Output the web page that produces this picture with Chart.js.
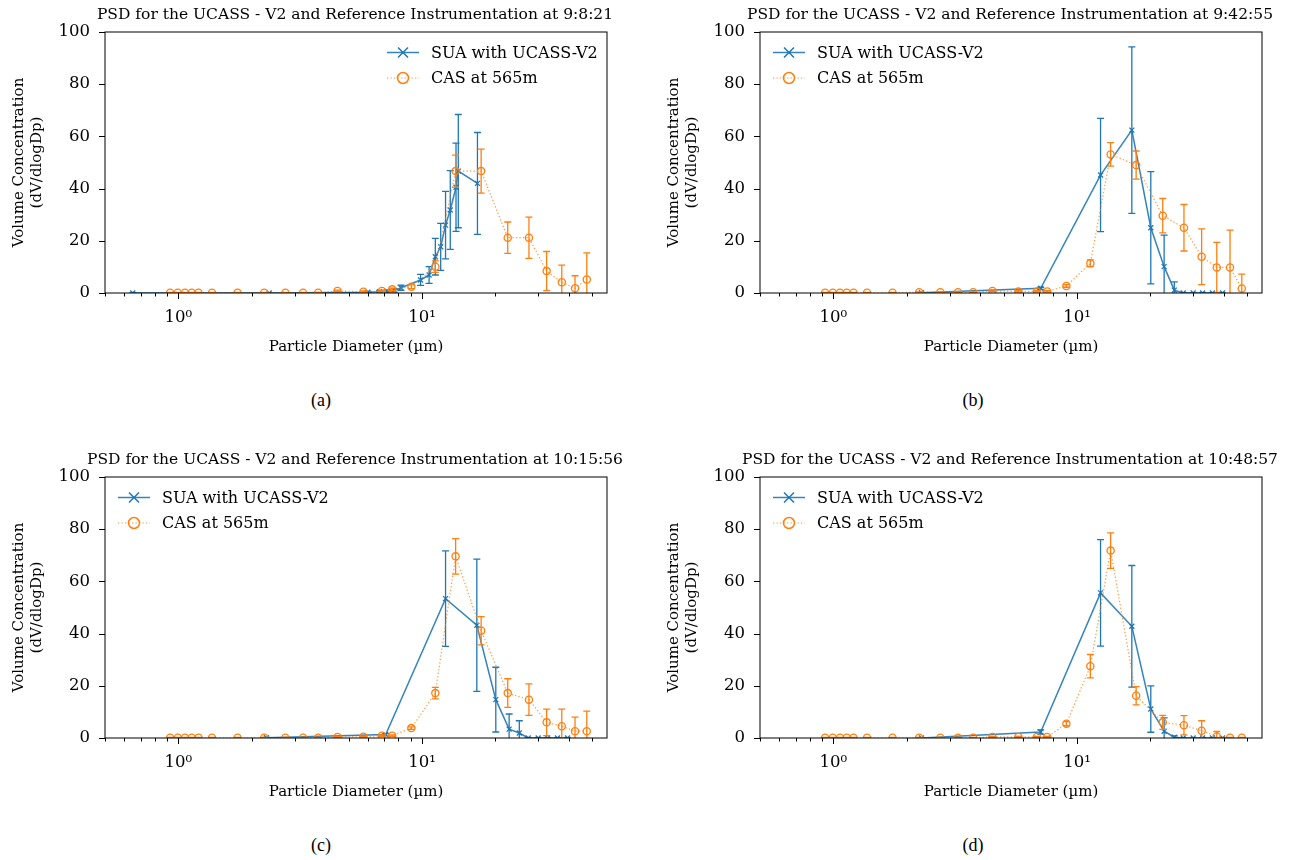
<!DOCTYPE html>
<html>
<head>
<meta charset="utf-8">
<script src="https://cdn.jsdelivr.net/npm/chart.js@4.4.0/dist/chart.umd.min.js"></script>
<style>
  body { margin: 0; background: #fff; width: 1298px; height: 860px; position: relative; overflow: hidden; }
  canvas { position: absolute; }
  .cap { position: absolute; font-family: 'Liberation Serif', serif; font-size: 18px; color: #000; transform: translateX(-50%); line-height: 20px; }
</style>
</head>
<body>
<canvas id="chartA" width="643" height="370" style="left:0px;top:0px"></canvas>
<canvas id="chartB" width="643" height="370" style="left:655px;top:0px"></canvas>
<canvas id="chartC" width="643" height="370" style="left:0px;top:445px"></canvas>
<canvas id="chartD" width="643" height="370" style="left:655px;top:445px"></canvas>
<div class="cap" style="left:321px;top:390px">(a)</div>
<div class="cap" style="left:973px;top:390px">(b)</div>
<div class="cap" style="left:321px;top:835px">(c)</div>
<div class="cap" style="left:973px;top:835px">(d)</div>
<script>
// CAS bin mid-points (um), same for every panel
const casDiameter = [0.925, 0.995, 1.065, 1.135, 1.21, 1.375, 1.75, 2.25, 2.75, 3.25, 3.75, 4.5, 5.75, 6.85, 7.55, 9.05, 11.35, 13.75, 17.5, 22.5, 27.5, 32.5, 37.5, 42.5, 47.5];
// UCASS bins: first flight used a different set
const suaDiameterA = [0.65, 2.36, 6.0, 6.7, 7.2, 7.7, 8.2, 9.87, 10.7, 11.35, 11.94, 12.5, 13.07, 13.8, 14.1, 16.9];
const suaDiameter = [2.3, 7.1, 12.5, 16.8, 20.1, 22.8, 25.1, 27.3, 30.0, 32.8, 36.0, 39.6];

// (a) 9:8:21
const suaA = [0, 0, 0.3, 0.5, 0.7, 1.0, 2.0, 5.0, 6.9, 13.9, 17.7, 26.0, 31.8, 40.5, 46.7, 42.0];
const suaErrA = [0, 0, 0.3, 0.4, 0.5, 0.7, 1.0, 2.1, 3.2, 7.0, 9.0, 12.9, 15.1, 16.9, 21.7, 19.5];
const casA = [0.1, 0.1, 0.1, 0.1, 0.1, 0.1, 0.1, 0.1, 0.1, 0.1, 0.1, 0.8, 0.5, 0.8, 1.4, 2.4, 10.1, 46.7, 46.7, 21.2, 21.2, 8.4, 4.1, 1.8, 5.2];
const casErrA = [0.1, 0.1, 0.1, 0.1, 0.1, 0.1, 0.1, 0.1, 0.1, 0.1, 0.1, 0.3, 0.3, 0.3, 0.5, 0.7, 2.2, 6.1, 8.4, 6.0, 7.9, 7.5, 6.6, 4.8, 10.2];

// (b) 9:42:55
const suaB = [0.1, 1.8, 45.2, 62.4, 25.0, 10.1, 1.1, 0, 0, 0, 0, 0];
const suaErrB = [0.1, 0.4, 21.7, 31.9, 21.5, 12.1, 3.2, 0, 0, 0, 0, 0];
const casB = [0.1, 0.1, 0.1, 0.1, 0.1, 0.1, 0.1, 0.3, 0.3, 0.3, 0.3, 0.8, 0.6, 0.6, 0.6, 2.7, 11.4, 53.1, 49.0, 29.6, 25.0, 13.9, 9.8, 9.8, 1.7];
const casErrB = [0.1, 0.1, 0.1, 0.1, 0.1, 0.1, 0.1, 0.1, 0.1, 0.1, 0.1, 0.3, 0.3, 0.3, 0.3, 0.5, 1.3, 4.5, 5.4, 6.6, 8.9, 10.7, 9.6, 14.3, 5.5];

// (c) 10:15:56
const suaC = [0.1, 1.3, 53.4, 43.2, 14.7, 3.4, 1.9, 0, 0, 0, 0, 0];
const suaErrC = [0.1, 0.4, 18.3, 25.3, 12.4, 5.8, 4.7, 0, 0, 0, 0, 0];
const casC = [0.1, 0.1, 0.1, 0.1, 0.1, 0.1, 0.1, 0.1, 0.1, 0.1, 0.1, 0.4, 0.5, 0.9, 0.9, 3.8, 17.2, 69.6, 41.1, 17.2, 14.7, 6.0, 4.5, 2.6, 2.6];
const casErrC = [0.1, 0.1, 0.1, 0.1, 0.1, 0.1, 0.1, 0.1, 0.1, 0.1, 0.1, 0.2, 0.2, 0.3, 0.3, 0.5, 2.2, 6.8, 5.4, 5.5, 6.0, 5.1, 6.6, 5.4, 7.7];

// (d) 10:48:57
const suaD = [0, 2.3, 55.6, 42.8, 11.1, 2.6, 0.3, 0, 0, 0, 0, 0];
const suaErrD = [0, 0.8, 20.4, 23.3, 8.9, 5.1, 0.5, 0, 0, 0, 0, 0];
const casD = [0.1, 0.1, 0.1, 0.1, 0.1, 0.1, 0.1, 0.1, 0.1, 0.1, 0.1, 0.4, 0.4, 0.4, 0.4, 5.5, 27.5, 71.8, 16.2, 6.0, 4.9, 2.8, 0.6, 0.1, 0.1];
const casErrD = [0.1, 0.1, 0.1, 0.1, 0.1, 0.1, 0.1, 0.1, 0.1, 0.1, 0.1, 0.2, 0.2, 0.2, 0.2, 0.8, 4.5, 6.8, 3.5, 2.7, 3.7, 3.8, 1.9, 0.1, 0.1];

// axis ticks
const xTickValues = [0.5, 0.6, 0.7, 0.8, 0.9, 1, 2, 3, 4, 5, 6, 7, 8, 9, 10, 20, 30, 40, 50];
const xTickLabels = { 1: '10\u2070', 10: '10\u00b9' };
const yTickValues = [0, 20, 40, 60, 80, 100];

const BLUE = '#1f77b4';
const ORANGE = '#ff7f0e';
const SERIF = "'DejaVu Serif', serif";

// error bars drawn under each dataset, through the chart scales
const errorBars = {
  id: 'errorBars',
  beforeDatasetDraw(chart, args) {
    const ds = chart.data.datasets[args.index];
    if (!ds.errors) return;
    const { ctx, chartArea, scales: { x, y } } = chart;
    ctx.save();
    ctx.beginPath();
    ctx.rect(chartArea.left, chartArea.top, chartArea.width, chartArea.height);
    ctx.clip();
    ctx.strokeStyle = ds.pointBorderColor;
    ctx.lineWidth = 1.3;
    ds.data.forEach((p, i) => {
      const e = ds.errors[i];
      const px = x.getPixelForValue(p.x);
      const top = y.getPixelForValue(p.y + e);
      const bot = y.getPixelForValue(p.y - e);
      ctx.beginPath();
      ctx.moveTo(px, top); ctx.lineTo(px, bot);
      ctx.moveTo(px - 3.5, top); ctx.lineTo(px + 3.5, top);
      ctx.moveTo(px - 3.5, bot); ctx.lineTo(px + 3.5, bot);
      ctx.stroke();
    });
    ctx.restore();
  }
};

// box frame + outward tick marks like matplotlib
const frameTicks = {
  id: 'frameTicks',
  afterDraw(chart) {
    const { ctx, chartArea: a, scales: { x, y } } = chart;
    ctx.save();
    ctx.strokeStyle = '#000';
    ctx.lineWidth = 1;
    ctx.strokeRect(a.left, a.top, a.width, a.height);
    ctx.beginPath();
    xTickValues.forEach(v => {
      const px = Math.round(x.getPixelForValue(v)) + 0.5;
      const len = xTickLabels[v] ? 6 : 3.5;
      ctx.moveTo(px, a.bottom); ctx.lineTo(px, a.bottom + len);
    });
    yTickValues.forEach(v => {
      const py = Math.round(y.getPixelForValue(v)) + 0.5;
      ctx.moveTo(a.left, py); ctx.lineTo(a.left - 6, py);
    });
    ctx.stroke();
    ctx.restore();
  }
};

// title centred on the axes, allowed to run wider than them
const axesTitle = {
  id: 'axesTitle',
  afterDraw(chart, args, opts) {
    const { ctx, chartArea: a } = chart;
    ctx.save();
    ctx.fillStyle = '#000';
    ctx.font = "15.5px " + SERIF;
    ctx.textAlign = 'center';
    ctx.textBaseline = 'middle';
    ctx.fillText(opts.text, (a.left + a.right) / 2 - 1, 14.5);
    ctx.restore();
  }
};

// legend inside the axes, no frame
const psdLegend = {
  id: 'psdLegend',
  afterDraw(chart, args, opts) {
    const { ctx } = chart;
    ctx.save();
    chart.data.datasets.forEach((ds, i) => {
      const yy = opts.y + i * 25.5;
      const x0 = opts.x;
      ctx.strokeStyle = ds.borderColor;
      ctx.lineWidth = ds.borderWidth;
      ctx.setLineDash(ds.borderDash || []);
      ctx.beginPath();
      ctx.moveTo(x0, yy); ctx.lineTo(x0 + 32, yy);
      ctx.stroke();
      ctx.setLineDash([]);
      ctx.strokeStyle = ds.pointBorderColor;
      ctx.lineWidth = 1.5;
      const cx = x0 + 16;
      ctx.beginPath();
      if (ds.pointStyle === 'crossRot') {
        ctx.moveTo(cx - 5, yy - 5); ctx.lineTo(cx + 5, yy + 5);
        ctx.moveTo(cx - 5, yy + 5); ctx.lineTo(cx + 5, yy - 5);
      } else {
        ctx.arc(cx, yy, 5.5, 0, Math.PI * 2);
      }
      ctx.stroke();
      ctx.fillStyle = '#000';
      ctx.font = "16px " + SERIF;
      ctx.textBaseline = 'middle';
      ctx.textAlign = 'left';
      ctx.fillText(ds.label, x0 + 44, yy + 1);
    });
    ctx.restore();
  }
};

function makePanel(id, title, suaX, suaY, suaErr, casY, casErr, legendX) {
  const ctx = document.getElementById(id).getContext('2d');
  return new Chart(ctx, {
    type: 'line',
    data: {
      datasets: [
        {
          label: 'SUA with UCASS-V2',
          data: suaX.map((d, i) => ({ x: d, y: suaY[i] })),
          errors: suaErr,
          borderColor: 'rgba(31,119,180,0.9)',
          borderWidth: 1.5,
          pointStyle: 'crossRot',
          pointRadius: 3.5,
          pointBorderWidth: 1.3,
          pointBorderColor: BLUE,
          pointBackgroundColor: BLUE,
          tension: 0,
          fill: false,
          order: 1
        },
        {
          label: 'CAS at 565m',
          data: casDiameter.map((d, i) => ({ x: d, y: casY[i] })),
          errors: casErr,
          borderColor: 'rgba(255,127,14,0.8)',
          borderWidth: 1.2,
          borderDash: [1.3, 2.2],
          pointStyle: 'circle',
          pointRadius: 3.6,
          pointBorderWidth: 1.3,
          pointBorderColor: ORANGE,
          pointBackgroundColor: 'rgba(255,255,255,0)',
          tension: 0,
          fill: false,
          order: 0
        }
      ]
    },
    options: {
      responsive: false,
      animation: false,
      events: [],
      layout: { padding: { left: 0, right: 36, top: 32, bottom: 0 } },
      plugins: {
        legend: { display: false },
        tooltip: { enabled: false },
        title: { display: false },
        axesTitle: { text: title },
        psdLegend: { x: legendX, y: 52.5 }
      },
      scales: {
        x: {
          type: 'logarithmic',
          min: 0.5,
          max: 57.5,
          afterBuildTicks: s => { s.ticks = xTickValues.map(v => ({ value: v })); },
          afterFit: s => { s.height = 77; },
          grid: { display: false, drawTicks: false },
          border: { display: false },
          ticks: {
            autoSkip: false,
            maxRotation: 0,
            padding: 15,
            color: '#000',
            font: { family: SERIF, size: 16.5 },
            callback: v => xTickLabels[v] || ''
          },
          title: {
            display: true,
            text: 'Particle Diameter (\u00b5m)',
            color: '#000',
            font: { family: SERIF, size: 15 },
            padding: { top: 0, bottom: 14 }
          }
        },
        y: {
          min: 0,
          max: 100,
          afterBuildTicks: s => { s.ticks = yTickValues.map(v => ({ value: v })); },
          afterFit: s => { s.width = 105; },
          grid: { display: false, drawTicks: false },
          border: { display: false },
          ticks: {
            padding: 15,
            color: '#000',
            font: { family: SERIF, size: 16.5 }
          },
          title: {
            display: true,
            text: ['Volume Concentration', '(dV/dlogDp)'],
            color: '#000',
            font: { family: SERIF, size: 15 },
            padding: { top: 10, bottom: 0 }
          }
        }
      }
    },
    plugins: [errorBars, frameTicks, axesTitle, psdLegend]
  });
}

makePanel('chartA', 'PSD for the UCASS - V2 and Reference Instrumentation at 9:8:21', suaDiameterA, suaA, suaErrA, casA, casErrA, 387);
makePanel('chartB', 'PSD for the UCASS - V2 and Reference Instrumentation at 9:42:55', suaDiameter, suaB, suaErrB, casB, casErrB, 118);
makePanel('chartC', 'PSD for the UCASS - V2 and Reference Instrumentation at 10:15:56', suaDiameter, suaC, suaErrC, casC, casErrC, 118);
makePanel('chartD', 'PSD for the UCASS - V2 and Reference Instrumentation at 10:48:57', suaDiameter, suaD, suaErrD, casD, casErrD, 118);
</script>
</body>
</html>
